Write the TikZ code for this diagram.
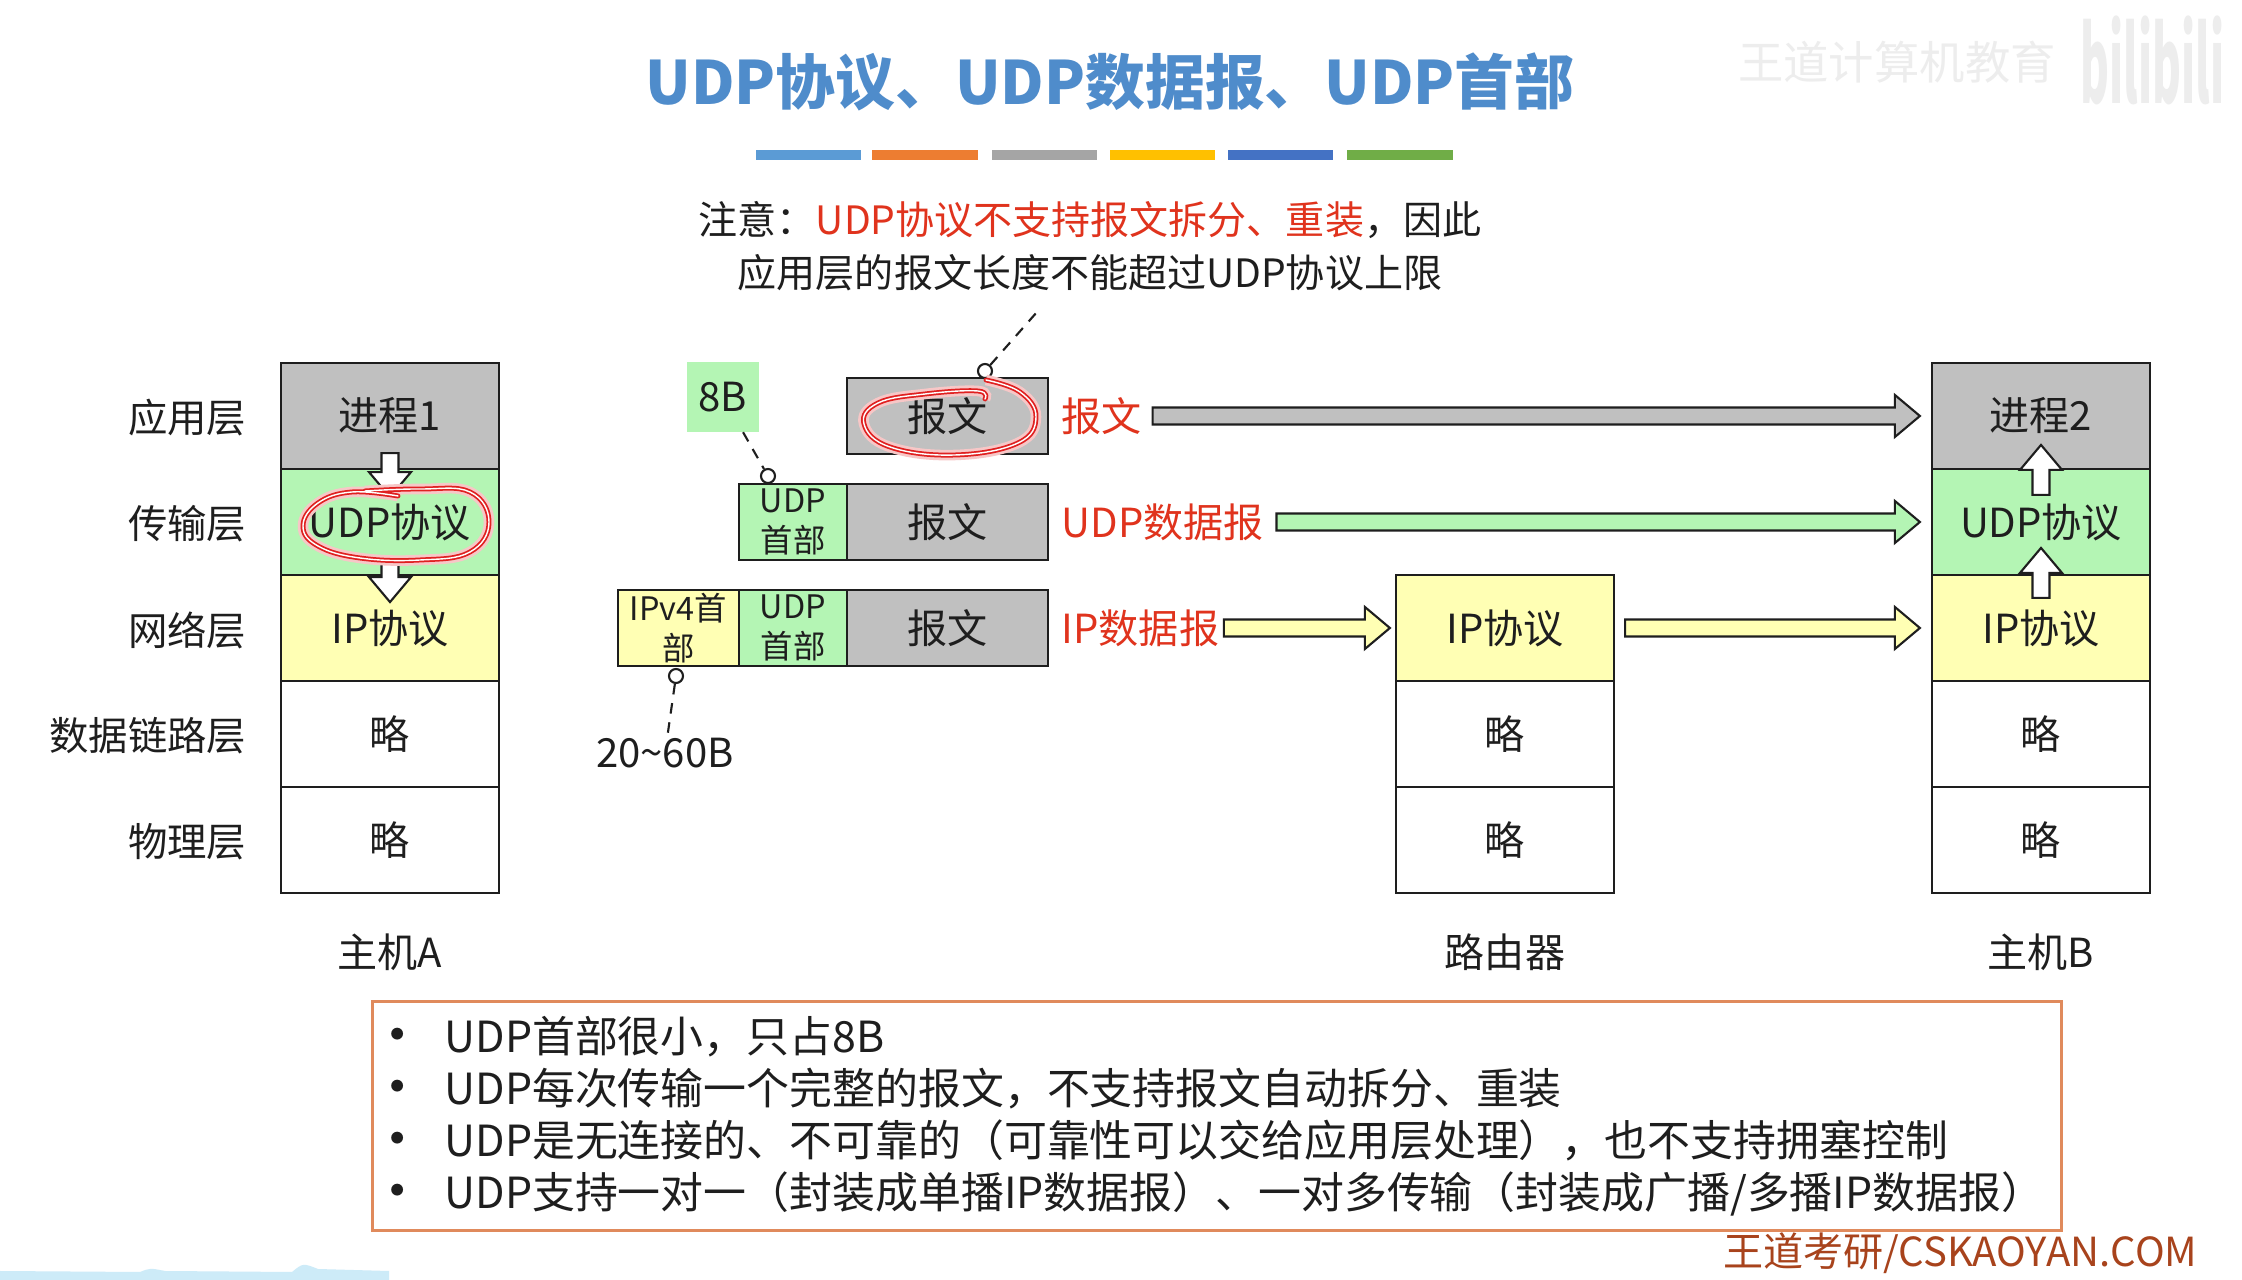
\documentclass[tikz,border=0pt]{standalone}
\usepackage{fontspec}
\setmainfont{Noto Sans CJK SC}
\usepackage{xcolor}
\usepackage{tikz}
\usetikzlibrary{calc}
\definecolor{titleblue}{HTML}{4F8CCB}
\definecolor{barblue}{HTML}{5B9BD5}
\definecolor{barorange}{HTML}{ED7D31}
\definecolor{bargray}{HTML}{A5A5A5}
\definecolor{baryellow}{HTML}{FFC000}
\definecolor{bardarkblue}{HTML}{4472C4}
\definecolor{bargreen}{HTML}{70AD47}
\definecolor{msggray}{HTML}{C0C0C0}
\definecolor{udpgreen}{HTML}{B4F5B4}
\definecolor{ipyellow}{HTML}{FFFFB4}
\definecolor{labelred}{HTML}{E0331D}
\definecolor{inkline}{HTML}{1E1E1E}
\definecolor{noteorange}{HTML}{E08A5C}
\definecolor{footerred}{HTML}{A8431C}
\definecolor{penred}{HTML}{E02020}
\definecolor{waveblue}{HTML}{CDEBF8}
\tikzset{
  layerbox/.style={
    draw=inkline,
    line width=0.6pt,
    minimum width=2.18cm,
    minimum height=1.06cm,
    inner sep=0pt,
    text=inkline,
    font=\fontsize{11.4}{13.7}\selectfont
  },
  graybox/.style={layerbox, fill=msggray},
  greenbox/.style={layerbox, fill=udpgreen},
  yellowbox/.style={layerbox, fill=ipyellow},
  plainbox/.style={layerbox, fill=white},
  pktbox/.style={
    draw=inkline,
    line width=0.6pt,
    minimum height=0.76cm,
    inner sep=0pt,
    text=inkline,
    align=center,
    font=\fontsize{11.4}{13.7}\selectfont
  },
  msgbox/.style={pktbox, fill=msggray, minimum width=2.01cm},
  hdrbox/.style={pktbox, fill=udpgreen, minimum width=1.08cm, font=\fontsize{9.2}{11.4}\selectfont},
  iphdrbox/.style={pktbox, fill=ipyellow, minimum width=1.21cm, font=\fontsize{9.2}{11.4}\selectfont},
  redlabel/.style={anchor=west, inner sep=0pt, text=labelred, font=\fontsize{11.4}{13.7}\selectfont},
  layerlabel/.style={anchor=east, inner sep=0pt, text=inkline, font=\fontsize{11.2}{13.7}\selectfont},
  plaintext/.style={inner sep=1pt, text=inkline, font=\fontsize{11.4}{13.7}\selectfont},
  titletext/.style={inner sep=0pt, text=titleblue, font=\fontsize{17}{20}\selectfont\bfseries},
  leader/.style={draw=inkline, line width=0.6pt, dash pattern=on 3pt off 2.5pt},
  dot/.style={circle, draw=inkline, fill=white, line width=0.6pt, minimum size=0.14cm, inner sep=0pt},
  fatline/.style={draw=inkline, line width=0.6pt, line join=miter},
  penmark/.style={
    draw=penred, line width=1.4pt, line cap=round, line join=round,
    preaction={draw=penred!25, line width=3pt},
    postaction={draw=white, line width=0.4pt}
  },
  summarybox/.style={
    draw=noteorange,
    line width=1pt,
    minimum width=16.88cm,
    minimum height=2.29cm,
    text width=16.5cm,
    inner xsep=0.19cm,
    align=left,
    text=inkline,
    font=\fontsize{12.2}{14.8}\selectfont
  }
}
% block arrow: from, to, fill
\newcommand{\fatarrow}[3]{%
  \path ($(#2)!0.25cm!(#1)$) coordinate (fa-base);
  \draw[fatline, fill=#3] ($(#1)!0.085cm!90:(#2)$) -- ($(fa-base)!0.085cm!-90:(#1)$)
    -- ($(fa-base)!0.21cm!-90:(#1)$) -- (#2) -- ($(fa-base)!0.21cm!90:(#1)$)
    -- ($(fa-base)!0.085cm!90:(#1)$) -- ($(#1)!0.085cm!-90:(#2)$) -- cycle;
}
\newcommand{\bulletitem}{\makebox[0.53cm][l]{\hspace{-0.22cm}\raisebox{-0.03cm}{\fontsize{16}{14.8}\selectfont •}}}

\begin{document}
\begin{tikzpicture}[x=0.01cm, y=-0.01cm]
  \useasboundingbox (0,0) rectangle (2242,1280);
  \fill[white] (0,0) rectangle (2242,1280);

  % watermark and title
  \node[inner sep=0pt, text=black!7, font=\fontsize{12.9}{14}\selectfont] (mark) at (1897,62) {王道计算机教育};
  \node[anchor=west, inner sep=0pt, text=black!7, font=\fontsize{12.5}{13}\selectfont\bfseries] (bili) at (2080,60) {\scalebox{1}[2.4]{bilibili}};
  \node[titletext] (title) at (1110,82) {UDP协议、UDP数据报、UDP首部};
  \fill[barblue] (756,150) rectangle (861,160);
  \fill[barorange] (872,150) rectangle (978,160);
  \fill[bargray] (992,150) rectangle (1097,160);
  \fill[baryellow] (1110,150) rectangle (1215,160);
  \fill[bardarkblue] (1228,150) rectangle (1333,160);
  \fill[bargreen] (1347,150) rectangle (1453,160);

  \node[plaintext, align=center, font=\fontsize{11.1}{15.1}\selectfont] (note) at (1090,246)
    {注意：\textcolor{labelred}{UDP协议不支持报文拆分、重装}，因此\\应用层的报文长度不能超过UDP协议上限};

  % host A
  \node[graybox] (p1) at (390,416) {进程1};
  \node[greenbox] (udpA) at (390,522) {UDP协议};
  \node[yellowbox] (ipA) at (390,628) {IP协议};
  \node[plainbox] (linkA) at (390,734) {略};
  \node[plainbox] (phyA) at (390,840) {略};
  \node[layerlabel] (lapp) at (247,418) {应用层};
  \node[layerlabel] (ltrans) at (247,524) {传输层};
  \node[layerlabel] (lnet) at (247,630) {网络层};
  \node[layerlabel] (llink) at (247,736) {数据链路层};
  \node[layerlabel] (lphy) at (247,842) {物理层};
  \node[plaintext] (hostA) at (390,952) {主机A};

  % router
  \node[yellowbox] (ipR) at (1505,628) {IP协议};
  \node[plainbox] (linkR) at (1505,734) {略};
  \node[plainbox] (phyR) at (1505,840) {略};
  \node[plaintext] (router) at (1505,952) {路由器};

  % host B
  \node[graybox] (p2) at (2041,416) {进程2};
  \node[greenbox] (udpB) at (2041,522) {UDP协议};
  \node[yellowbox] (ipB) at (2041,628) {IP协议};
  \node[plainbox] (linkB) at (2041,734) {略};
  \node[plainbox] (phyB) at (2041,840) {略};
  \node[plaintext] (hostB) at (2041,952) {主机B};

  % encapsulation
  \node[msgbox] (msg1) at (947.5,416) {报文};
  \node[hdrbox] (hdr2) at (793,522) {UDP\\首部};
  \node[msgbox] (msg2) at (947.5,522) {报文};
  \node[iphdrbox] (iph3) at (678.5,628) {IPv4首\\部};
  \node[hdrbox] (hdr3) at (793,628) {UDP\\首部};
  \node[msgbox] (msg3) at (947.5,628) {报文};
  \node[redlabel] (lblmsg) at (1061,416) {报文};
  \node[redlabel] (lbludp) at (1061,522) {UDP数据报};
  \node[redlabel] (lblip) at (1061,628) {IP数据报};

  \node[plaintext, fill=udpgreen, minimum width=0.71cm, minimum height=0.69cm, inner sep=0pt] (b8) at (723,397) {8B};
  \node[plaintext] (range) at (665,753) {20\textasciitilde60B};
  \node[dot] (dotmsg) at (985,371) {};
  \node[dot] (dot8b) at (768,476) {};
  \node[dot] (dotip) at (676,676) {};
  \coordinate (notetip) at (1037,312);
  \draw[leader] (dotmsg) -- (notetip);
  \draw[leader] (b8) -- (dot8b);
  \draw[leader] (dotip) -- (range);

  % block arrows
  \coordinate (m1a) at ($(lblmsg.east)+(10,0)$);
  \coordinate (m1b) at ($(p2.west)+(-11,0)$);
  \coordinate (m2a) at ($(lbludp.east)+(12,0)$);
  \coordinate (m2b) at ($(udpB.west)+(-11,0)$);
  \coordinate (m3a) at ($(lblip.east)+(4,0)$);
  \coordinate (m3b) at ($(ipR.west)+(-5,0)$);
  \coordinate (m4a) at ($(ipR.east)+(10,0)$);
  \coordinate (m4b) at ($(ipB.west)+(-11,0)$);
  \fatarrow{m1a}{m1b}{msggray}
  \fatarrow{m2a}{m2b}{udpgreen}
  \fatarrow{m3a}{m3b}{ipyellow}
  \fatarrow{m4a}{m4b}{ipyellow}

  \coordinate (va1a) at ($(p1.south)+(0,-17)$);
  \coordinate (va1b) at ($(p1.south)+(0,27)$);
  \coordinate (va2a) at ($(udpA.south)+(0,-17)$);
  \coordinate (va2b) at ($(udpA.south)+(0,26)$);
  \coordinate (vb1a) at ($(udpB.north)+(0,27)$);
  \coordinate (vb1b) at ($(udpB.north)+(0,-23)$);
  \coordinate (vb2a) at ($(ipB.north)+(0,24)$);
  \coordinate (vb2b) at ($(ipB.north)+(0,-26)$);
  \fatarrow{va1a}{va1b}{white}
  \fatarrow{va2a}{va2b}{white}
  \fatarrow{vb1a}{vb1b}{white}
  \fatarrow{vb2a}{vb2b}{white}

  % pen marks
  \draw[penmark] plot[smooth, tension=0.7] coordinates {(986,380) (1020,392) (1036,417) (1018,443) (955,455) (890,447) (864,424) (878,403) (925,394) (978,391) (985,399)};
  \draw[penmark] plot[smooth, tension=0.7] coordinates {(365,491) (420,489) (470,492) (489,522) (470,552) (420,560) (360,558) (318,546) (303,526) (318,503) (352,492) (398,496)};

  % summary
  \node[summarybox] (summary) at (1217,1116) {%
    \bulletitem UDP首部很小，只占8B\\
    \bulletitem UDP每次传输一个完整的报文，不支持报文自动拆分、重装\\
    \bulletitem UDP是无连接的、不可靠的（可靠性可以交给应用层处理），也不支持拥塞控制\\
    \bulletitem UDP支持一对一（封装成单播IP数据报）、一对多传输（封装成广播/多播IP数据报）};
  \node[anchor=east, inner sep=0pt, text=footerred, font=\fontsize{11.4}{13}\selectfont] (footer) at (2198,1253) {王道考研/CSKAOYAN.COM};
  \fill[waveblue] (0,1271) -- (140,1272) .. controls (150,1268) .. (165,1271) -- (292,1272) .. controls (303,1263) .. (318,1269) -- (389,1271) -- (389,1280) -- (0,1280) -- cycle;
\end{tikzpicture}
\end{document}
